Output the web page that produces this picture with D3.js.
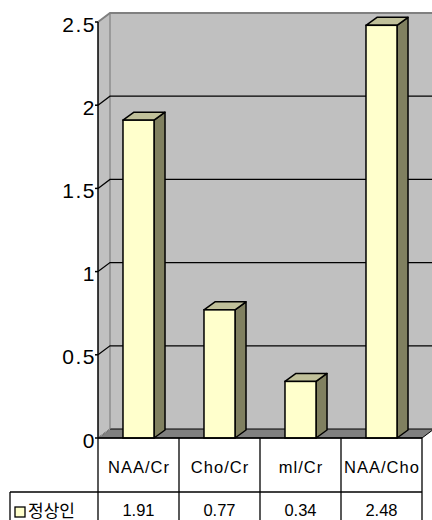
<!DOCTYPE html>
<html>
<head>
<meta charset="utf-8">
<script src="https://cdn.jsdelivr.net/npm/d3@7"></script>
<style>
  html, body { margin: 0; padding: 0; background: #fff; }
  svg { display: block; }
</style>
</head>
<body>
<svg id="chart" width="432" height="520"></svg>
<script>
// Metabolite ratios for the normal group
const categories = ["NAA/Cr", "Cho/Cr", "mI/Cr", "NAA/Cho"];
const categoryLabels = ["NAA/Cr", "Cho/Cr", "ml/Cr", "NAA/Cho"];
const seriesName = "정상인";
const seriesValues = [1.91, 0.77, 0.34, 2.48];
const valueLabels = ["1.91", "0.77", "0.34", "2.48"];
const yTicks = [0, 0.5, 1, 1.5, 2, 2.5];
const yTickLabels = ["0", "0.5", "1", "1.5", "2", "2.5"];

const svg = d3.select("#chart");
const W = 432, H = 520;

// front plane of the 3-D plot area
const plotLeft = 98, plotRight = 422, plotBase = 438, plotTop = 22;
// depth of walls and of the columns
const wallDx = 12, wallDy = -9;
const barDx = 11, barDy = -8;

const y = d3.scaleLinear().domain([0, 2.5]).range([plotBase, plotTop]);
const xCell = d3.scaleBand().domain(categories).range([plotLeft, plotRight]);
const xBar = d3.scaleBand().domain(categories).range([plotLeft, plotRight])
  .paddingInner(0.617).paddingOuter(0.3085);

const line = d3.line();
const poly = pts => line(pts) + "Z";

const wallFill = "#c0c0c0";
const edgeGray = "#808080";

// back wall (runs past the right edge)
svg.append("path")
  .attr("d", poly([[plotLeft + wallDx, plotTop + wallDy], [W + 4, plotTop + wallDy],
                   [W + 4, plotBase + wallDy], [plotLeft + wallDx, plotBase + wallDy]]))
  .attr("fill", wallFill);

// side wall
svg.append("path")
  .attr("d", poly([[plotLeft, plotTop], [plotLeft + wallDx, plotTop + wallDy],
                   [plotLeft + wallDx, plotBase + wallDy], [plotLeft, plotBase]]))
  .attr("fill", wallFill);

// floor
svg.append("path")
  .attr("d", poly([[plotLeft, plotBase], [plotLeft + wallDx, plotBase + wallDy],
                   [plotRight + wallDx, plotBase + wallDy], [plotRight, plotBase]]))
  .attr("fill", edgeGray)
  .attr("stroke", "#000").attr("stroke-width", 1);

// wall edges
svg.append("path")
  .attr("d", line([[plotLeft, plotTop], [plotLeft + wallDx, plotTop + wallDy], [W + 4, plotTop + wallDy]]))
  .attr("fill", "none").attr("stroke", edgeGray).attr("stroke-width", 2);
svg.append("path")
  .attr("d", line([[plotLeft + wallDx, plotTop + wallDy], [plotLeft + wallDx, plotBase + wallDy]]))
  .attr("fill", "none").attr("stroke", edgeGray).attr("stroke-width", 1.2);
svg.append("path")
  .attr("d", line([[plotLeft, plotBase], [plotLeft + wallDx, plotBase + wallDy]]))
  .attr("fill", "none").attr("stroke", "#a8a8a8").attr("stroke-width", 1);

// gridlines over side wall and back wall
const grid = yTicks.filter(t => t > 0 && t < 2.5);
svg.append("g").selectAll("path").data(grid).join("path")
  .attr("d", t => line([[plotLeft, y(t)], [plotLeft + wallDx, y(t) + wallDy], [W + 4, y(t) + wallDy]]))
  .attr("fill", "none").attr("stroke", "#000").attr("stroke-width", 1.2);

// value axis
svg.append("line")
  .attr("x1", plotLeft).attr("x2", plotLeft).attr("y1", plotTop).attr("y2", plotBase)
  .attr("stroke", "#000").attr("stroke-width", 1.5);
svg.append("g").selectAll("line").data(yTicks).join("line")
  .attr("x1", plotLeft - 3).attr("x2", plotLeft).attr("y1", d => y(d)).attr("y2", d => y(d))
  .attr("stroke", "#000").attr("stroke-width", 1.5);
svg.append("g").selectAll("text").data(yTicks).join("text")
  .attr("x", plotLeft - 2).attr("y", d => y(d) + 2)
  .attr("text-anchor", "end").attr("dominant-baseline", "central")
  .attr("font-family", "'Liberation Sans', Arial, sans-serif")
  .attr("font-size", 21).attr("letter-spacing", 1.5).attr("fill", "#000")
  .text((d, i) => yTickLabels[i]);

// columns
const bars = svg.append("g").selectAll("g").data(categories).join("g");
bars.append("path") // side face
  .attr("d", (c, i) => {
    const x1 = xBar(c) + xBar.bandwidth(), v = y(seriesValues[i]);
    return poly([[x1, v], [x1 + barDx, v + barDy], [x1 + barDx, plotBase + barDy], [x1, plotBase]]);
  })
  .attr("fill", "#808060").attr("stroke", "#000").attr("stroke-width", 1.5)
  .attr("stroke-linejoin", "round");
bars.append("path") // top face
  .attr("d", (c, i) => {
    const x0 = xBar(c), x1 = x0 + xBar.bandwidth(), v = y(seriesValues[i]);
    return poly([[x0, v], [x0 + barDx, v + barDy], [x1 + barDx, v + barDy], [x1, v]]);
  })
  .attr("fill", "#c0c09a").attr("stroke", "#000").attr("stroke-width", 1.5)
  .attr("stroke-linejoin", "round");
bars.append("rect") // front face
  .attr("x", c => xBar(c))
  .attr("y", (c, i) => y(seriesValues[i]))
  .attr("width", xBar.bandwidth())
  .attr("height", (c, i) => plotBase - y(seriesValues[i]))
  .attr("fill", "#ffffcc").attr("stroke", "#000").attr("stroke-width", 1.5);

// data table
const rowTop = plotBase, rowMid = 492, rowBot = 540, tableLeft = 10;
const tbl = svg.append("g").attr("stroke", "#000").attr("stroke-width", 1.3);
tbl.append("line").attr("x1", plotLeft).attr("x2", plotRight).attr("y1", rowTop).attr("y2", rowTop);
tbl.append("line").attr("x1", tableLeft).attr("x2", plotRight).attr("y1", rowMid).attr("y2", rowMid);
tbl.selectAll("line.v").data(categories.concat(["_end"])).join("line")
  .attr("class", "v")
  .attr("x1", (c, i) => i < categories.length ? xCell(c) : plotRight)
  .attr("x2", (c, i) => i < categories.length ? xCell(c) : plotRight)
  .attr("y1", rowTop).attr("y2", rowBot);
tbl.append("line").attr("x1", tableLeft).attr("x2", tableLeft).attr("y1", rowMid).attr("y2", rowBot);

svg.append("g").selectAll("text").data(categories).join("text")
  .attr("x", c => xCell(c) + xCell.bandwidth() / 2 + 0.5)
  .attr("y", 467)
  .attr("text-anchor", "middle").attr("dominant-baseline", "central")
  .attr("font-family", "'Liberation Sans', Arial, sans-serif")
  .attr("font-size", 16.5).attr("letter-spacing", 1)
  .text((c, i) => categoryLabels[i]);

svg.append("g").selectAll("text").data(categories).join("text")
  .attr("x", c => xCell(c) + xCell.bandwidth() / 2)
  .attr("y", 510)
  .attr("text-anchor", "middle").attr("dominant-baseline", "central")
  .attr("font-family", "'Liberation Sans', Arial, sans-serif")
  .attr("font-size", 16.5)
  .text((c, i) => valueLabels[i]);

// legend key inside the table
svg.append("rect")
  .attr("x", 15).attr("y", 507).attr("width", 10).attr("height", 10)
  .attr("fill", "#ffffcc").attr("stroke", "#000").attr("stroke-width", 1.3);
svg.append("text")
  .attr("x", 28).attr("y", 509)
  .attr("dominant-baseline", "central")
  .attr("font-family", "'Noto Sans CJK KR', sans-serif")
  .attr("font-size", 17)
  .text(seriesName);
</script>
</body>
</html>
